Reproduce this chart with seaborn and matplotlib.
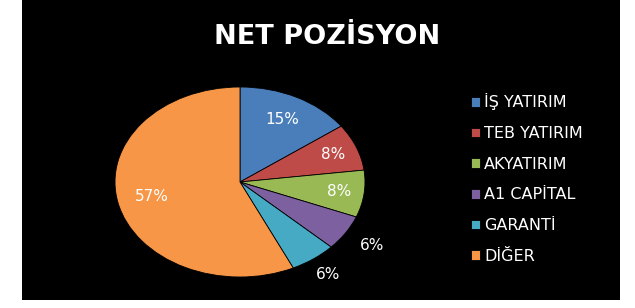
import numpy as np
import seaborn as sns
import matplotlib.pyplot as plt
from matplotlib.patches import Rectangle

# Net pozisyon payları (%)
kurumlar = ['İŞ YATIRIM', 'TEB YATIRIM', 'AKYATIRIM', 'A1 CAPİTAL', 'GARANTİ', 'DİĞER']
paylar = [15, 8, 8, 6, 6, 57]
renkler = ['#4a7ebb', '#be4b48', '#98b954', '#7d60a0', '#46aac5', '#f79646']
etiket_uzaklik = [0.74, 0.8, 0.8, 1.25, 1.2, 0.72]

sns.set_theme(style='white')
plt.rcParams['font.family'] = ['DejaVu Sans']

fig = plt.figure(figsize=(6.35, 3.08), dpi=100, facecolor='white')

# siyah grafik alanı
fig.patches.append(Rectangle((22 / 635, 8 / 308), 598 / 635, 300 / 308,
                             transform=fig.transFigure, facecolor='black',
                             edgecolor='none', zorder=-5))

fig.text(0.515, 0.88, 'NET POZİSYON', color='white', fontsize=19.5,
         fontweight='bold', ha='center', va='center')

ax = fig.add_axes([115 / 635, 31 / 308, 250 / 635, 190 / 308])
ax.patch.set_alpha(0)
wedges, _ = ax.pie(paylar, colors=renkler, startangle=90, counterclock=False,
                   wedgeprops=dict(edgecolor='black', linewidth=0.6))
ax.set_aspect('auto')
ax.set_xlim(-1, 1)
ax.set_ylim(-1, 1)
ax.axis('off')

for w, p, d in zip(wedges, paylar, etiket_uzaklik):
    a = np.deg2rad((w.theta1 + w.theta2) / 2)
    ax.text(d * np.cos(a), d * np.sin(a), f'{p}%', color='white',
            fontsize=11, ha='center', va='center')

leg = fig.legend(wedges, kurumlar, loc='upper left', bbox_to_anchor=(465 / 635, 1 - 87 / 308),
                 frameon=False, fontsize=11.5, labelcolor='white',
                 handlelength=0.55, handleheight=0.55, handletextpad=0.25,
                 labelspacing=0.98, borderaxespad=0)

fig.savefig('out.png', dpi=100, facecolor='white')
